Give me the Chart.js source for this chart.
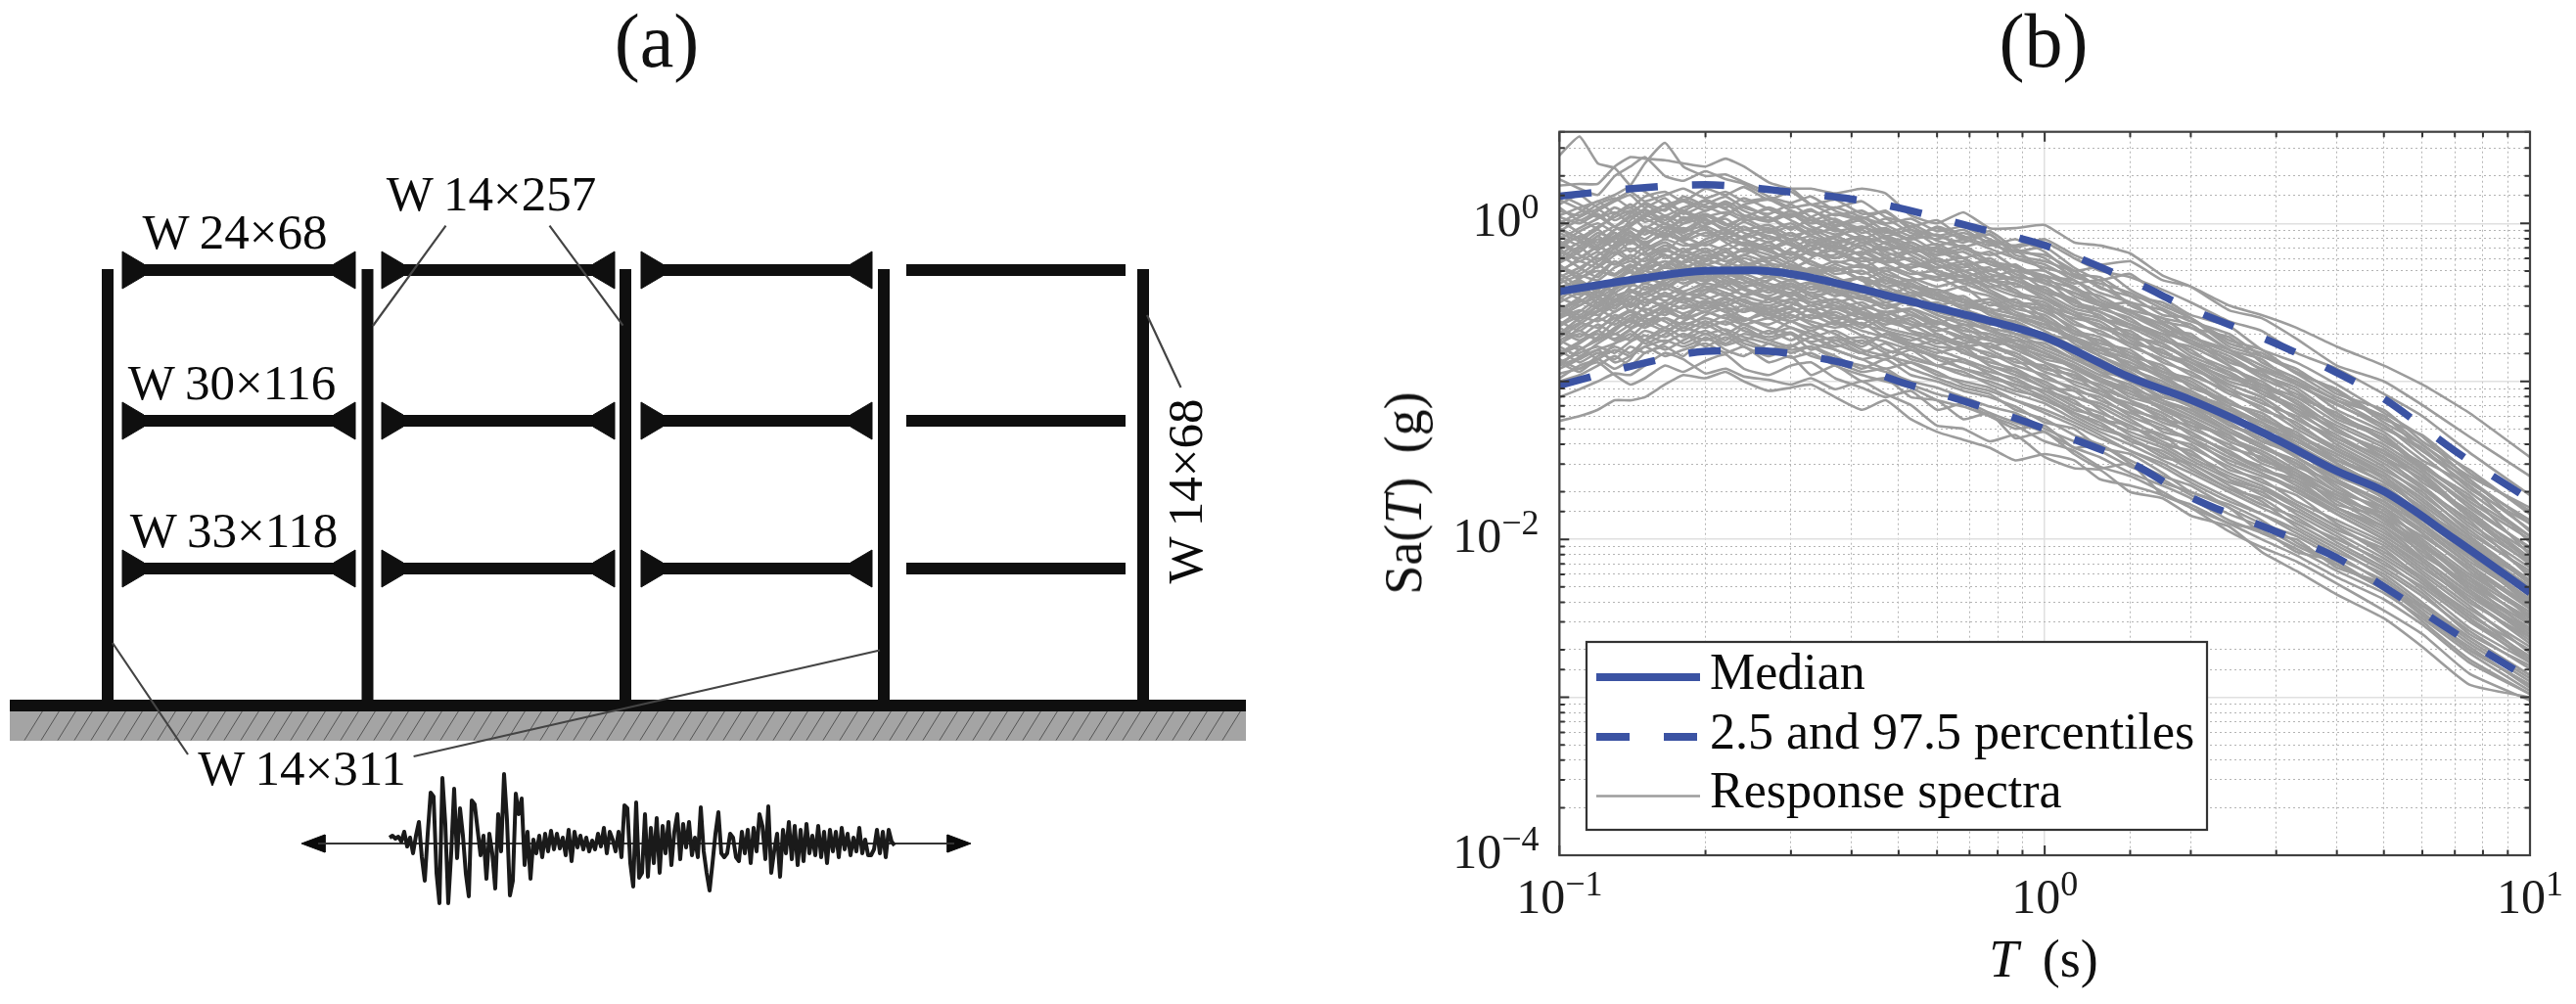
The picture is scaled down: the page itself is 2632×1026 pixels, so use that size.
<!DOCTYPE html>
<html>
<head>
<meta charset="utf-8">
<title>Frame and response spectra</title>
<script src="https://cdn.jsdelivr.net/npm/chart.js@4/dist/chart.umd.min.js"></script>
<style>
  html, body { margin: 0; padding: 0; background: #fff; }
  body { position: relative; width: 2632px; height: 1026px; overflow: hidden; font-family: "Liberation Serif", serif; color: #111; }
  canvas { position: absolute; top: 0; }
  #frame-chart { left: 0; }
  #spectra-chart { left: 1320px; }
  .lbl { position: absolute; white-space: nowrap; }
  .panel { font-size: 78px; line-height: 78px; top: 3px; transform: translateX(-50%); }
  .axis { font-size: 54px; line-height: 54px; word-spacing: 0.2em; }
</style>
</head>
<body>
<canvas id="frame-chart" width="1320" height="1026"></canvas>
<canvas id="spectra-chart" width="1312" height="1026"></canvas>
<div class="lbl panel" style="left:671px">(a)</div>
<div class="lbl panel" style="left:2088px">(b)</div>
<div class="lbl axis" style="left:2088px;top:953px;transform:translateX(-50%)"><i>T</i> (s)</div>
<div class="lbl axis" style="left:1434px;top:504px;transform:translate(-50%,-50%) rotate(-90deg)">Sa(<i>T</i>) (g)</div>
<script>
// (a) frame sketch, units are picture pixels
var columnX = [110, 375.5, 639, 903, 1168];
var floorY = [276, 430, 581];
var bayStart = [125, 390, 655, 926];
var bayEnd = [363, 628, 891, 1150];
var hatchBottomX = [25, 42, 59, 76, 93, 110, 127, 144, 161, 178, 195, 212, 229, 246, 263, 280, 297, 314, 331, 348, 365, 382, 399, 416, 433, 450, 467, 484, 501, 518, 535, 552, 569, 586, 603, 620, 637, 654, 671, 688, 705, 722, 739, 756, 773, 790, 807, 824, 841, 858, 875, 892, 909, 926, 943, 960, 977, 994, 1011, 1028, 1045, 1062, 1079, 1096, 1113, 1130, 1147, 1164, 1181, 1198, 1215, 1232, 1249];
var sectionLabels = ["W\u200914\u00d7257", "W\u200924\u00d768", "W\u200930\u00d7116", "W\u200933\u00d7118", "W\u200914\u00d7311", "W\u200914\u00d768"];
// ground motion, px above the base line, one value every 3 px
var groundMotion = [6, 8, 5, 7, 2, 12, -3, 6, -10, 8, 22, -14, -38, 10, 52, 48, -30, -61, 67, 20, -61, -10, 56, -15, 36, 8, -31, -54, 44, 40, 14, -12, 8, -36, 10, -10, -46, 30, -8, 71, 24, -53, -38, 51, 30, 46, -22, 12, -36, 4, -10, 8, -14, 10, -8, 13, -6, 10, -5, 6, -12, 14, -18, 12, -4, 8, -6, 6, -8, 3, -6, 10, -3, 16, -10, 12, 4, -8, 12, -14, 39, 36, -20, -44, 42, -35, -30, 30, -34, 16, -20, 26, -30, 18, -10, 22, -22, 12, 30, -16, 20, -4, 22, -12, 6, -14, 37, -8, -30, -48, -20, 10, 32, -10, -14, -10, 10, 6, -14, -18, 12, -10, 14, -20, 16, -8, 30, 18, -16, 38, -30, -8, 10, -34, 14, -10, 22, -16, 18, -22, 14, -18, 20, -10, 8, -12, 18, -14, 12, -20, 14, -8, 12, -14, 16, -6, 10, -12, 6, -8, 16, -10, 4, -12, -12, -6, 14, -10, 12, -14, 14, 2, -2];

// (b) spectra
var periods = [0.1, 0.11, 0.12, 0.13, 0.14, 0.15, 0.165, 0.18, 0.2, 0.22, 0.24, 0.27, 0.3, 0.33, 0.37, 0.42, 0.47, 0.53, 0.6, 0.68, 0.77, 0.87, 1, 1.15, 1.3, 1.5, 1.75, 2, 2.4, 2.8, 3.3, 4, 5, 6, 7.5, 10];
var medianPeriods = [0.1, 0.15, 0.2, 0.25, 0.3, 0.4, 0.5, 0.7, 1, 1.5, 2, 3, 4, 5, 7, 10];
var medianLog = [-0.43, -0.345, -0.30, -0.297, -0.32, -0.40, -0.475, -0.585, -0.718, -0.975, -1.117, -1.366, -1.568, -1.696, -2.00, -2.337];
var upperLog = [0.172, 0.227, 0.245, 0.225, 0.198, 0.154, 0.099, -0.018, -0.139, -0.359, -0.542, -0.762, -0.945, -1.11, -1.44, -1.751];
var lowerLog = [-1.026, -0.883, -0.81, -0.805, -0.824, -0.897, -1.0, -1.136, -1.30, -1.513, -1.733, -1.952, -2.117, -2.30, -2.593, -2.886];
var xTickValues = [0.1, 1, 10];
var xTickExp = ["\u22121", "0", "1"];
var yTickValues = [0.0001, 0.01, 1];
var yTickExp = ["\u22124", "\u22122", "0"];
var legendLabels = ["Median", "2.5 and 97.5 percentiles", "Response spectra"];
// log10 of Sa for each record
var spectraLog = [
  [0.43, 0.55, 0.38, 0.35, 0.24, 0.20, 0.12, 0.15, 0.10, 0.13, 0.05, 0.02, 0.06, -0.02, -0.07, -0.04, -0.13, -0.18, -0.15, -0.22, -0.30, -0.27, -0.36, -0.41, -0.52, -0.50, -0.63, -0.72, -0.80, -0.93, -1.02, -1.15, -1.28, -1.47, -1.70, -1.98],
  [0.24, 0.25, 0.25, 0.36, 0.42, 0.41, 0.40, 0.38, 0.36, 0.41, 0.36, 0.26, 0.22, 0.22, 0.19, 0.22, 0.19, 0.05, 0.00, 0.07, -0.03, -0.03, -0.01, -0.12, -0.14, -0.19, -0.33, -0.40, -0.55, -0.60, -0.73, -0.90, -1.00, -1.15, -1.35, -1.60],
  [0.05, 0.10, 0.14, 0.18, 0.24, 0.38, 0.51, 0.36, 0.30, 0.31, 0.26, 0.20, 0.22, 0.12, 0.10, 0.14, 0.04, 0.00, -0.08, -0.04, -0.13, -0.18, -0.15, -0.28, -0.36, -0.32, -0.47, -0.58, -0.65, -0.80, -0.88, -1.02, -1.20, -1.35, -1.62, -1.90],
  [0.28, 0.22, 0.18, 0.30, 0.36, 0.42, 0.30, 0.27, 0.33, 0.28, 0.25, 0.17, 0.13, 0.17, 0.08, 0.03, 0.08, -0.04, -0.08, -0.12, -0.07, -0.20, -0.24, -0.30, -0.28, -0.42, -0.52, -0.60, -0.74, -0.80, -0.95, -1.10, -1.22, -1.40, -1.60, -1.80],
  [-0.05, 0.02, -0.03, 0.06, 0.10, 0.04, 0.12, 0.08, 0.15, 0.10, 0.16, 0.09, 0.04, 0.08, 0.02, -0.03, 0.03, -0.06, -0.10, -0.06, -0.12, -0.14, -0.10, -0.20, -0.26, -0.24, -0.36, -0.40, -0.52, -0.58, -0.66, -0.78, -0.90, -1.02, -1.20, -1.48],
  [0.12, 0.18, 0.10, 0.15, 0.20, 0.14, 0.18, 0.22, 0.16, 0.20, 0.14, 0.16, 0.10, 0.12, 0.05, 0.08, 0.00, 0.03, -0.05, -0.02, -0.10, -0.15, -0.12, -0.22, -0.30, -0.34, -0.42, -0.50, -0.62, -0.68, -0.82, -0.92, -1.08, -1.22, -1.45, -1.72],
  [-1.25, -1.22, -1.18, -1.12, -1.12, -1.10, -1.02, -0.96, -0.98, -0.94, -1.00, -1.06, -1.04, -1.02, -1.10, -1.18, -1.12, -1.24, -1.32, -1.37, -1.42, -1.50, -1.46, -1.50, -1.62, -1.66, -1.72, -1.80, -1.95, -2.05, -2.14, -2.28, -2.45, -2.60, -2.85, -3.02],
  [-1.10, -1.05, -1.00, -0.95, -0.96, -0.90, -0.82, -0.86, -0.95, -0.92, -0.97, -0.99, -1.02, -0.98, -1.05, -1.00, -1.08, -1.15, -1.28, -1.30, -1.38, -1.34, -1.48, -1.55, -1.56, -1.70, -1.74, -1.85, -1.92, -2.08, -2.20, -2.35, -2.50, -2.68, -2.92, -3.00],
  [-0.95, -0.92, -0.88, -0.96, -1.02, -0.98, -0.90, -0.94, -0.87, -0.83, -0.92, -0.96, -0.90, -0.88, -0.98, -1.04, -1.10, -1.06, -1.18, -1.14, -1.22, -1.30, -1.28, -1.42, -1.40, -1.52, -1.64, -1.70, -1.80, -1.96, -2.00, -2.18, -2.28, -2.48, -2.70, -2.92],
  [-0.90, -0.85, -0.80, -0.88, -0.84, -0.78, -0.84, -0.80, -0.76, -0.82, -0.78, -0.88, -0.84, -0.96, -0.90, -1.00, -0.98, -1.10, -1.12, -1.24, -1.20, -1.36, -1.32, -1.46, -1.55, -1.52, -1.72, -1.78, -1.90, -1.94, -2.08, -2.14, -2.32, -2.42, -2.62, -2.86],
  [0.08, 0.05, 0.12, 0.16, 0.10, 0.17, 0.20, 0.14, 0.22, 0.18, 0.23, 0.15, 0.20, 0.12, 0.15, 0.06, 0.07, -0.02, 0.02, -0.09, -0.07, -0.18, -0.20, -0.30, -0.41, -0.46, -0.58, -0.60, -0.76, -0.82, -0.95, -1.05, -1.24, -1.34, -1.58, -1.82],
  [0.15, 0.09, 0.04, 0.10, 0.06, 0.13, 0.08, 0.17, 0.11, 0.06, 0.12, 0.15, 0.08, 0.02, 0.06, 0.01, -0.06, -0.02, -0.11, -0.15, -0.11, -0.22, -0.28, -0.33, -0.40, -0.50, -0.55, -0.66, -0.72, -0.88, -0.98, -1.12, -1.22, -1.44, -1.62, -1.95],
  [-0.02, 0.04, 0.09, 0.02, 0.07, 0.12, 0.05, 0.10, 0.14, 0.09, 0.04, 0.10, 0.05, 0.09, -0.01, 0.04, -0.05, -0.10, -0.07, -0.16, -0.20, -0.17, -0.30, -0.38, -0.36, -0.52, -0.60, -0.64, -0.80, -0.86, -1.02, -1.14, -1.30, -1.42, -1.68, -1.90],
  [-0.10, -0.03, 0.03, 0.07, 0.00, 0.06, 0.11, 0.03, 0.08, 0.12, 0.05, 0.01, 0.06, 0.00, 0.03, -0.06, -0.03, -0.12, -0.18, -0.14, -0.24, -0.27, -0.34, -0.36, -0.48, -0.55, -0.60, -0.72, -0.82, -0.92, -1.00, -1.18, -1.32, -1.50, -1.66, -2.02],
  [-0.03, -0.09, -0.02, 0.04, 0.08, 0.01, 0.05, 0.00, 0.04, 0.07, 0.02, 0.04, -0.03, 0.02, -0.05, -0.02, -0.10, -0.16, -0.13, -0.22, -0.30, -0.26, -0.38, -0.44, -0.50, -0.58, -0.68, -0.70, -0.88, -0.94, -1.10, -1.20, -1.38, -1.52, -1.76, -2.00],
  [-0.15, -0.08, -0.12, -0.04, -0.01, 0.03, -0.03, 0.02, 0.05, -0.01, 0.03, -0.04, 0.00, -0.07, -0.03, -0.12, -0.09, -0.18, -0.16, -0.26, -0.24, -0.34, -0.36, -0.50, -0.54, -0.60, -0.74, -0.78, -0.90, -1.02, -1.10, -1.26, -1.40, -1.56, -1.80, -2.05],
  [-0.08, -0.14, -0.06, -0.10, -0.03, -0.07, 0.00, -0.05, -0.01, 0.03, -0.04, -0.01, -0.08, -0.05, -0.13, -0.08, -0.17, -0.14, -0.24, -0.22, -0.32, -0.36, -0.42, -0.48, -0.60, -0.64, -0.72, -0.84, -0.94, -1.06, -1.16, -1.32, -1.44, -1.64, -1.82, -2.12],
  [-0.20, -0.12, -0.16, -0.09, -0.13, -0.05, -0.09, -0.03, -0.08, -0.04, -0.09, -0.05, -0.11, -0.08, -0.15, -0.19, -0.15, -0.24, -0.28, -0.26, -0.36, -0.38, -0.46, -0.56, -0.60, -0.70, -0.78, -0.86, -1.00, -1.06, -1.20, -1.34, -1.50, -1.66, -1.90, -2.15],
  [-0.25, -0.18, -0.10, -0.15, -0.08, -0.12, -0.07, -0.11, -0.06, -0.10, -0.14, -0.08, -0.13, -0.17, -0.12, -0.21, -0.25, -0.22, -0.32, -0.36, -0.34, -0.44, -0.52, -0.58, -0.66, -0.72, -0.84, -0.90, -1.04, -1.14, -1.22, -1.40, -1.56, -1.70, -1.96, -2.20],
  [-0.18, -0.22, -0.15, -0.19, -0.12, -0.16, -0.10, -0.14, -0.12, -0.08, -0.13, -0.17, -0.12, -0.20, -0.17, -0.24, -0.22, -0.30, -0.36, -0.33, -0.42, -0.50, -0.52, -0.64, -0.68, -0.78, -0.86, -0.96, -1.06, -1.18, -1.26, -1.44, -1.58, -1.76, -1.98, -2.26],
  [-0.30, -0.24, -0.28, -0.20, -0.16, -0.20, -0.14, -0.18, -0.13, -0.17, -0.12, -0.18, -0.22, -0.18, -0.25, -0.22, -0.32, -0.36, -0.34, -0.42, -0.46, -0.54, -0.58, -0.70, -0.74, -0.82, -0.92, -1.00, -1.14, -1.20, -1.34, -1.48, -1.64, -1.80, -2.04, -2.30],
  [-0.34, -0.28, -0.22, -0.26, -0.20, -0.24, -0.17, -0.21, -0.16, -0.21, -0.17, -0.22, -0.19, -0.26, -0.30, -0.27, -0.36, -0.40, -0.42, -0.48, -0.54, -0.58, -0.66, -0.72, -0.82, -0.88, -0.98, -1.06, -1.18, -1.28, -1.38, -1.52, -1.68, -1.86, -2.06, -2.36],
  [-0.38, -0.33, -0.36, -0.28, -0.24, -0.27, -0.20, -0.25, -0.20, -0.24, -0.20, -0.25, -0.28, -0.31, -0.28, -0.36, -0.40, -0.38, -0.48, -0.52, -0.56, -0.64, -0.70, -0.80, -0.86, -0.96, -1.02, -1.12, -1.24, -1.30, -1.44, -1.60, -1.72, -1.90, -2.12, -2.40],
  [-0.28, -0.34, -0.30, -0.33, -0.27, -0.30, -0.24, -0.28, -0.23, -0.27, -0.30, -0.26, -0.32, -0.29, -0.37, -0.34, -0.43, -0.46, -0.45, -0.54, -0.60, -0.62, -0.74, -0.82, -0.92, -0.98, -1.10, -1.14, -1.28, -1.36, -1.48, -1.62, -1.78, -1.94, -2.16, -2.44],
  [-0.44, -0.38, -0.41, -0.35, -0.31, -0.34, -0.28, -0.31, -0.26, -0.30, -0.26, -0.32, -0.36, -0.33, -0.40, -0.44, -0.42, -0.50, -0.55, -0.58, -0.66, -0.70, -0.78, -0.86, -0.94, -1.04, -1.12, -1.20, -1.32, -1.42, -1.50, -1.68, -1.82, -2.00, -2.22, -2.46],
  [-0.40, -0.45, -0.37, -0.40, -0.34, -0.38, -0.32, -0.36, -0.30, -0.34, -0.38, -0.34, -0.40, -0.37, -0.44, -0.48, -0.52, -0.50, -0.58, -0.64, -0.66, -0.76, -0.82, -0.92, -0.98, -1.06, -1.18, -1.24, -1.36, -1.44, -1.56, -1.70, -1.88, -2.04, -2.26, -2.52],
  [-0.50, -0.44, -0.47, -0.41, -0.38, -0.42, -0.36, -0.33, -0.37, -0.32, -0.36, -0.41, -0.38, -0.46, -0.43, -0.52, -0.56, -0.54, -0.63, -0.66, -0.74, -0.78, -0.88, -0.94, -1.04, -1.12, -1.20, -1.30, -1.40, -1.52, -1.60, -1.76, -1.92, -2.08, -2.32, -2.56],
  [-0.47, -0.52, -0.44, -0.48, -0.42, -0.45, -0.39, -0.43, -0.38, -0.41, -0.45, -0.40, -0.47, -0.50, -0.48, -0.56, -0.60, -0.64, -0.66, -0.74, -0.78, -0.84, -0.94, -1.00, -1.06, -1.16, -1.26, -1.32, -1.46, -1.54, -1.66, -1.80, -1.94, -2.14, -2.36, -2.60],
  [-0.56, -0.49, -0.53, -0.46, -0.43, -0.47, -0.41, -0.45, -0.42, -0.46, -0.41, -0.47, -0.50, -0.55, -0.52, -0.60, -0.58, -0.68, -0.72, -0.76, -0.84, -0.86, -0.98, -1.04, -1.12, -1.20, -1.28, -1.38, -1.50, -1.58, -1.70, -1.84, -2.00, -2.16, -2.40, -2.62],
  [-0.60, -0.55, -0.58, -0.52, -0.48, -0.44, -0.49, -0.44, -0.48, -0.44, -0.49, -0.52, -0.48, -0.56, -0.60, -0.57, -0.66, -0.70, -0.74, -0.82, -0.88, -0.92, -1.02, -1.10, -1.16, -1.26, -1.34, -1.42, -1.54, -1.64, -1.72, -1.90, -2.04, -2.22, -2.44, -2.68],
  [-0.53, -0.60, -0.55, -0.49, -0.53, -0.48, -0.52, -0.47, -0.51, -0.47, -0.52, -0.56, -0.53, -0.60, -0.56, -0.64, -0.68, -0.72, -0.78, -0.80, -0.90, -0.96, -1.04, -1.14, -1.20, -1.28, -1.38, -1.46, -1.58, -1.66, -1.78, -1.92, -2.08, -2.24, -2.48, -2.70],
  [-0.65, -0.59, -0.62, -0.56, -0.51, -0.55, -0.50, -0.54, -0.49, -0.53, -0.56, -0.52, -0.58, -0.62, -0.66, -0.63, -0.72, -0.76, -0.80, -0.86, -0.92, -1.00, -1.06, -1.16, -1.24, -1.32, -1.40, -1.50, -1.62, -1.72, -1.82, -1.96, -2.12, -2.28, -2.50, -2.74],
  [-0.70, -0.63, -0.66, -0.60, -0.55, -0.59, -0.53, -0.57, -0.52, -0.56, -0.61, -0.57, -0.62, -0.66, -0.63, -0.71, -0.75, -0.80, -0.84, -0.92, -0.96, -1.04, -1.12, -1.20, -1.26, -1.38, -1.44, -1.54, -1.68, -1.74, -1.88, -2.00, -2.14, -2.32, -2.56, -2.78],
  [-0.62, -0.68, -0.60, -0.64, -0.58, -0.62, -0.56, -0.60, -0.56, -0.60, -0.64, -0.60, -0.66, -0.70, -0.74, -0.72, -0.80, -0.84, -0.90, -0.94, -1.02, -1.08, -1.14, -1.24, -1.32, -1.40, -1.50, -1.58, -1.70, -1.80, -1.90, -2.04, -2.20, -2.36, -2.58, -2.82],
  [-0.76, -0.70, -0.73, -0.67, -0.62, -0.66, -0.60, -0.64, -0.60, -0.64, -0.60, -0.66, -0.70, -0.75, -0.72, -0.80, -0.84, -0.88, -0.96, -1.00, -1.04, -1.12, -1.20, -1.28, -1.36, -1.44, -1.54, -1.64, -1.76, -1.84, -1.94, -2.08, -2.22, -2.40, -2.62, -2.86],
  [-0.82, -0.75, -0.70, -0.73, -0.67, -0.63, -0.68, -0.63, -0.66, -0.62, -0.68, -0.72, -0.69, -0.76, -0.80, -0.86, -0.83, -0.92, -0.98, -1.04, -1.08, -1.18, -1.24, -1.34, -1.40, -1.50, -1.60, -1.66, -1.80, -1.90, -1.98, -2.12, -2.26, -2.44, -2.66, -2.90],
  [-0.78, -0.84, -0.76, -0.70, -0.74, -0.68, -0.72, -0.66, -0.70, -0.67, -0.72, -0.76, -0.80, -0.78, -0.86, -0.90, -0.94, -1.00, -1.04, -1.10, -1.16, -1.20, -1.30, -1.38, -1.44, -1.54, -1.62, -1.72, -1.84, -1.92, -2.04, -2.16, -2.30, -2.48, -2.68, -2.94],
  [-0.88, -0.82, -0.78, -0.82, -0.75, -0.71, -0.75, -0.70, -0.74, -0.70, -0.76, -0.80, -0.77, -0.84, -0.88, -0.94, -0.92, -1.02, -1.08, -1.12, -1.20, -1.26, -1.32, -1.42, -1.48, -1.58, -1.66, -1.74, -1.88, -1.96, -2.06, -2.20, -2.34, -2.50, -2.72, -2.96],
  [-0.98, -0.90, -0.86, -0.80, -0.84, -0.78, -0.74, -0.78, -0.73, -0.77, -0.74, -0.80, -0.85, -0.82, -0.90, -0.96, -1.00, -1.04, -1.12, -1.16, -1.22, -1.28, -1.38, -1.44, -1.54, -1.60, -1.70, -1.80, -1.90, -2.00, -2.10, -2.24, -2.38, -2.54, -2.78, -2.98],
  [-0.20, -0.28, -0.34, -0.24, -0.30, -0.34, -0.26, -0.20, -0.26, -0.22, -0.16, -0.20, -0.26, -0.30, -0.36, -0.40, -0.36, -0.44, -0.42, -0.50, -0.56, -0.52, -0.62, -0.76, -0.84, -0.92, -1.02, -1.06, -1.20, -1.26, -1.40, -1.54, -1.66, -1.84, -2.04, -2.30],
  [-0.58, -0.50, -0.42, -0.36, -0.40, -0.30, -0.34, -0.24, -0.18, -0.24, -0.28, -0.22, -0.18, -0.24, -0.30, -0.26, -0.34, -0.42, -0.48, -0.46, -0.56, -0.60, -0.68, -0.78, -0.80, -0.90, -1.04, -1.08, -1.22, -1.34, -1.40, -1.58, -1.74, -1.90, -2.14, -2.38],
  [-0.12, -0.20, -0.26, -0.32, -0.26, -0.34, -0.38, -0.32, -0.36, -0.30, -0.34, -0.40, -0.44, -0.38, -0.46, -0.42, -0.50, -0.46, -0.56, -0.60, -0.68, -0.72, -0.80, -0.88, -0.96, -1.02, -1.14, -1.18, -1.32, -1.40, -1.54, -1.64, -1.80, -1.96, -2.20, -2.48],
  [-0.72, -0.64, -0.56, -0.50, -0.44, -0.38, -0.42, -0.34, -0.28, -0.34, -0.40, -0.36, -0.30, -0.36, -0.42, -0.48, -0.44, -0.50, -0.58, -0.62, -0.68, -0.74, -0.76, -0.86, -0.92, -1.00, -1.10, -1.14, -1.26, -1.38, -1.44, -1.62, -1.76, -1.92, -2.16, -2.42],
  [0.02, -0.06, -0.14, -0.08, -0.18, -0.12, -0.22, -0.16, -0.24, -0.18, -0.26, -0.22, -0.28, -0.24, -0.32, -0.30, -0.38, -0.36, -0.44, -0.50, -0.48, -0.58, -0.64, -0.74, -0.80, -0.86, -0.98, -1.08, -1.16, -1.30, -1.36, -1.52, -1.68, -1.84, -2.08, -2.34],
  [-0.84, -0.76, -0.68, -0.58, -0.62, -0.52, -0.46, -0.50, -0.42, -0.36, -0.42, -0.46, -0.40, -0.46, -0.52, -0.56, -0.62, -0.58, -0.66, -0.72, -0.78, -0.82, -0.92, -0.96, -1.08, -1.14, -1.22, -1.34, -1.44, -1.56, -1.64, -1.80, -1.96, -2.12, -2.34, -2.58],
  [-0.32, -0.40, -0.46, -0.52, -0.46, -0.50, -0.44, -0.50, -0.54, -0.48, -0.52, -0.58, -0.62, -0.58, -0.64, -0.60, -0.68, -0.74, -0.70, -0.78, -0.82, -0.90, -0.96, -1.06, -1.10, -1.22, -1.30, -1.36, -1.52, -1.60, -1.68, -1.84, -2.00, -2.18, -2.38, -2.64],
  [-0.66, -0.72, -0.64, -0.70, -0.64, -0.58, -0.52, -0.46, -0.40, -0.44, -0.50, -0.54, -0.50, -0.56, -0.50, -0.58, -0.64, -0.60, -0.70, -0.76, -0.72, -0.80, -0.88, -0.98, -1.02, -1.12, -1.24, -1.28, -1.42, -1.48, -1.62, -1.74, -1.90, -2.06, -2.30, -2.54],
  [-0.24, -0.16, -0.08, -0.02, -0.08, -0.14, -0.20, -0.26, -0.32, -0.38, -0.34, -0.40, -0.36, -0.42, -0.38, -0.46, -0.42, -0.52, -0.50, -0.58, -0.64, -0.62, -0.72, -0.84, -0.90, -0.94, -1.08, -1.16, -1.26, -1.38, -1.46, -1.58, -1.72, -1.92, -2.10, -2.38],
  [-0.46, -0.36, -0.44, -0.36, -0.28, -0.22, -0.16, -0.22, -0.30, -0.36, -0.42, -0.48, -0.44, -0.52, -0.48, -0.54, -0.50, -0.58, -0.62, -0.70, -0.74, -0.78, -0.84, -0.90, -1.00, -1.08, -1.16, -1.24, -1.38, -1.46, -1.58, -1.72, -1.86, -2.02, -2.28, -2.50],
  [-0.36, -0.30, -0.20, -0.14, -0.06, -0.10, -0.02, -0.08, -0.14, -0.08, -0.14, -0.24, -0.16, -0.10, -0.16, -0.10, -0.20, -0.28, -0.24, -0.32, -0.40, -0.46, -0.50, -0.62, -0.70, -0.76, -0.88, -0.94, -1.08, -1.16, -1.30, -1.44, -1.60, -1.78, -2.00, -2.28],
  [-0.54, -0.62, -0.52, -0.44, -0.38, -0.30, -0.36, -0.28, -0.34, -0.26, -0.20, -0.14, -0.20, -0.14, -0.22, -0.18, -0.26, -0.32, -0.30, -0.38, -0.44, -0.50, -0.56, -0.66, -0.76, -0.80, -0.94, -0.98, -1.12, -1.24, -1.34, -1.46, -1.62, -1.82, -2.02, -2.32],
  [-0.16, -0.24, -0.18, -0.26, -0.22, -0.28, -0.24, -0.30, -0.34, -0.28, -0.32, -0.26, -0.34, -0.30, -0.24, -0.28, -0.22, -0.30, -0.34, -0.30, -0.38, -0.44, -0.48, -0.56, -0.66, -0.68, -0.82, -0.88, -1.02, -1.10, -1.24, -1.36, -1.52, -1.68, -1.92, -2.18],
  [-0.74, -0.68, -0.74, -0.66, -0.60, -0.54, -0.58, -0.52, -0.56, -0.50, -0.46, -0.42, -0.46, -0.40, -0.46, -0.40, -0.48, -0.44, -0.52, -0.48, -0.56, -0.60, -0.64, -0.72, -0.78, -0.84, -0.96, -1.02, -1.14, -1.22, -1.36, -1.50, -1.64, -1.80, -2.04, -2.26],
  [-0.92, -0.86, -0.80, -0.76, -0.70, -0.76, -0.70, -0.62, -0.56, -0.60, -0.54, -0.58, -0.54, -0.60, -0.54, -0.60, -0.56, -0.62, -0.68, -0.64, -0.72, -0.76, -0.82, -0.90, -0.98, -1.10, -1.16, -1.28, -1.34, -1.50, -1.56, -1.74, -1.84, -2.04, -2.24, -2.48],
  [-0.86, -0.92, -0.84, -0.78, -0.82, -0.74, -0.66, -0.72, -0.64, -0.70, -0.64, -0.70, -0.62, -0.68, -0.62, -0.68, -0.72, -0.78, -0.74, -0.82, -0.86, -0.94, -1.00, -1.10, -1.14, -1.24, -1.36, -1.40, -1.56, -1.62, -1.76, -1.88, -2.02, -2.20, -2.42, -2.72],
  [-0.42, -0.48, -0.54, -0.60, -0.66, -0.60, -0.66, -0.58, -0.64, -0.58, -0.64, -0.70, -0.66, -0.72, -0.68, -0.76, -0.70, -0.78, -0.84, -0.88, -0.94, -0.98, -1.08, -1.18, -1.22, -1.34, -1.42, -1.52, -1.64, -1.70, -1.84, -1.98, -2.16, -2.30, -2.52, -2.76],
  [-0.52, -0.58, -0.50, -0.56, -0.50, -0.56, -0.62, -0.68, -0.62, -0.68, -0.74, -0.68, -0.74, -0.68, -0.76, -0.82, -0.76, -0.86, -0.90, -0.96, -1.00, -1.06, -1.10, -1.22, -1.30, -1.36, -1.46, -1.56, -1.68, -1.78, -1.86, -2.02, -2.18, -2.34, -2.60, -2.80],
  [-0.68, -0.74, -0.68, -0.74, -0.68, -0.74, -0.68, -0.76, -0.70, -0.76, -0.70, -0.74, -0.78, -0.72, -0.78, -0.74, -0.82, -0.78, -0.86, -0.92, -0.98, -1.02, -1.10, -1.20, -1.28, -1.36, -1.48, -1.52, -1.66, -1.76, -1.92, -2.06, -2.24, -2.42, -2.64, -2.88],
  [-0.80, -0.88, -0.82, -0.86, -0.78, -0.82, -0.76, -0.70, -0.78, -0.72, -0.78, -0.84, -0.78, -0.72, -0.80, -0.86, -0.92, -0.88, -0.94, -1.02, -1.06, -1.12, -1.18, -1.26, -1.34, -1.44, -1.52, -1.62, -1.74, -1.84, -1.96, -2.10, -2.28, -2.46, -2.70, -2.92],
  [0.04, 0.00, 0.06, -0.02, 0.05, -0.03, 0.04, -0.04, 0.03, -0.05, 0.01, -0.06, -0.02, -0.08, -0.12, -0.08, -0.16, -0.12, -0.20, -0.18, -0.26, -0.30, -0.34, -0.46, -0.52, -0.56, -0.68, -0.76, -0.86, -0.98, -1.08, -1.22, -1.36, -1.54, -1.74, -1.98],
  [-0.06, -0.11, -0.04, -0.12, -0.06, -0.14, -0.04, -0.10, -0.02, -0.07, -0.02, -0.10, -0.06, -0.12, -0.08, -0.16, -0.20, -0.18, -0.26, -0.30, -0.28, -0.40, -0.40, -0.52, -0.56, -0.66, -0.70, -0.82, -0.92, -1.00, -1.14, -1.28, -1.42, -1.58, -1.84, -2.08],
  [0.10, 0.02, 0.08, 0.14, 0.18, 0.10, 0.16, 0.06, 0.12, 0.17, 0.10, 0.06, 0.12, 0.04, -0.02, 0.02, -0.08, -0.04, -0.14, -0.10, -0.16, -0.22, -0.26, -0.36, -0.44, -0.50, -0.62, -0.66, -0.80, -0.90, -1.00, -1.12, -1.28, -1.44, -1.66, -1.94],
  [0.18, 0.12, 0.05, -0.02, 0.04, 0.09, 0.02, 0.08, 0.02, -0.03, 0.04, 0.09, 0.02, -0.04, 0.01, -0.08, -0.12, -0.09, -0.18, -0.22, -0.18, -0.28, -0.33, -0.40, -0.50, -0.56, -0.66, -0.76, -0.86, -0.96, -1.06, -1.24, -1.36, -1.56, -1.78, -2.06],
  [-0.14, -0.05, 0.00, -0.06, -0.11, -0.04, -0.08, 0.00, 0.06, 0.00, -0.06, -0.12, -0.06, -0.14, -0.09, -0.02, -0.08, -0.16, -0.20, -0.16, -0.24, -0.30, -0.30, -0.42, -0.46, -0.56, -0.64, -0.74, -0.84, -0.96, -1.04, -1.22, -1.34, -1.54, -1.72, -2.10],
  [-0.22, -0.15, -0.24, -0.16, -0.22, -0.14, -0.06, -0.12, -0.18, -0.14, -0.08, -0.03, -0.10, -0.04, -0.10, -0.14, -0.08, -0.14, -0.22, -0.28, -0.22, -0.32, -0.38, -0.44, -0.52, -0.62, -0.70, -0.74, -0.90, -1.04, -1.12, -1.30, -1.46, -1.60, -1.84, -2.14],
  [-0.27, -0.32, -0.24, -0.13, -0.05, -0.14, -0.18, -0.08, -0.04, -0.12, -0.18, -0.12, -0.20, -0.12, -0.18, -0.26, -0.30, -0.26, -0.30, -0.38, -0.36, -0.42, -0.54, -0.60, -0.64, -0.76, -0.80, -0.92, -1.02, -1.10, -1.24, -1.38, -1.54, -1.72, -1.94, -2.22],
  [-0.35, -0.42, -0.32, -0.24, -0.30, -0.22, -0.28, -0.18, -0.22, -0.16, -0.24, -0.30, -0.24, -0.32, -0.26, -0.32, -0.28, -0.34, -0.40, -0.36, -0.44, -0.52, -0.54, -0.68, -0.72, -0.84, -0.90, -1.04, -1.12, -1.24, -1.32, -1.50, -1.60, -1.82, -2.00, -2.34],
  [-0.48, -0.40, -0.50, -0.42, -0.36, -0.28, -0.32, -0.38, -0.32, -0.28, -0.22, -0.28, -0.34, -0.28, -0.34, -0.40, -0.34, -0.40, -0.46, -0.52, -0.48, -0.56, -0.62, -0.68, -0.78, -0.92, -1.00, -1.10, -1.20, -1.32, -1.46, -1.56, -1.74, -1.88, -2.10, -2.42],
  [-0.55, -0.47, -0.38, -0.44, -0.50, -0.40, -0.46, -0.40, -0.34, -0.40, -0.32, -0.38, -0.42, -0.48, -0.42, -0.46, -0.54, -0.48, -0.54, -0.60, -0.62, -0.70, -0.74, -0.82, -0.88, -1.00, -1.06, -1.16, -1.30, -1.40, -1.52, -1.66, -1.84, -1.98, -2.18, -2.50],
  [-0.64, -0.56, -0.48, -0.54, -0.46, -0.52, -0.44, -0.50, -0.44, -0.38, -0.46, -0.50, -0.44, -0.50, -0.54, -0.50, -0.58, -0.54, -0.60, -0.68, -0.70, -0.76, -0.86, -0.90, -1.00, -1.06, -1.14, -1.22, -1.34, -1.50, -1.58, -1.78, -1.86, -2.10, -2.28, -2.58],
  [-0.74, -0.80, -0.72, -0.62, -0.56, -0.62, -0.56, -0.48, -0.54, -0.50, -0.56, -0.48, -0.54, -0.60, -0.58, -0.66, -0.60, -0.68, -0.76, -0.72, -0.80, -0.88, -0.90, -1.02, -1.08, -1.18, -1.32, -1.36, -1.48, -1.58, -1.68, -1.82, -1.98, -2.14, -2.38, -2.66],
  [-0.83, -0.78, -0.86, -0.76, -0.72, -0.64, -0.60, -0.66, -0.58, -0.54, -0.60, -0.64, -0.58, -0.64, -0.70, -0.78, -0.70, -0.76, -0.82, -0.78, -0.90, -0.94, -1.04, -1.06, -1.18, -1.30, -1.34, -1.48, -1.60, -1.68, -1.80, -1.94, -2.06, -2.26, -2.46, -2.76],
  [-0.16, -0.08, -0.16, -0.10, 0.02, 0.08, 0.00, -0.06, 0.02, -0.04, -0.10, -0.16, -0.10, -0.18, -0.22, -0.14, -0.22, -0.28, -0.22, -0.30, -0.36, -0.34, -0.44, -0.54, -0.58, -0.72, -0.76, -0.88, -0.98, -1.04, -1.18, -1.30, -1.48, -1.62, -1.86, -2.16],
  [-0.31, -0.22, -0.14, -0.06, -0.12, -0.02, -0.06, 0.04, -0.03, -0.10, -0.04, -0.08, -0.14, -0.20, -0.20, -0.12, -0.18, -0.24, -0.30, -0.34, -0.30, -0.36, -0.44, -0.48, -0.60, -0.66, -0.76, -0.86, -0.96, -1.08, -1.18, -1.36, -1.48, -1.68, -1.88, -2.24],
  [-0.41, -0.35, -0.27, -0.18, -0.24, -0.18, -0.12, -0.18, -0.10, -0.06, -0.10, -0.16, -0.24, -0.16, -0.08, -0.16, -0.24, -0.18, -0.26, -0.34, -0.40, -0.38, -0.48, -0.58, -0.62, -0.74, -0.82, -0.90, -1.06, -1.12, -1.28, -1.42, -1.58, -1.74, -1.98, -2.28],
  [-0.59, -0.52, -0.46, -0.38, -0.30, -0.36, -0.26, -0.32, -0.24, -0.18, -0.26, -0.34, -0.26, -0.34, -0.28, -0.36, -0.30, -0.38, -0.44, -0.40, -0.52, -0.48, -0.60, -0.70, -0.74, -0.86, -0.94, -1.02, -1.16, -1.26, -1.36, -1.52, -1.70, -1.84, -2.06, -2.36],
  [-0.70, -0.60, -0.52, -0.42, -0.34, -0.26, -0.20, -0.28, -0.36, -0.30, -0.36, -0.44, -0.38, -0.44, -0.40, -0.34, -0.40, -0.46, -0.42, -0.48, -0.58, -0.64, -0.70, -0.74, -0.84, -0.94, -1.06, -1.10, -1.28, -1.34, -1.48, -1.64, -1.76, -1.96, -2.18, -2.44],
  [-0.77, -0.66, -0.60, -0.48, -0.52, -0.44, -0.38, -0.44, -0.46, -0.52, -0.48, -0.56, -0.52, -0.44, -0.50, -0.46, -0.52, -0.56, -0.64, -0.56, -0.62, -0.70, -0.72, -0.84, -0.94, -0.98, -1.12, -1.18, -1.32, -1.42, -1.52, -1.70, -1.80, -2.02, -2.24, -2.54],
  [-0.90, -0.80, -0.74, -0.68, -0.60, -0.66, -0.54, -0.60, -0.50, -0.56, -0.52, -0.60, -0.56, -0.52, -0.58, -0.64, -0.56, -0.64, -0.72, -0.78, -0.76, -0.84, -0.92, -0.96, -1.04, -1.18, -1.24, -1.32, -1.46, -1.56, -1.62, -1.80, -1.92, -2.12, -2.34, -2.62],
  [-0.45, -0.37, -0.52, -0.44, -0.56, -0.48, -0.54, -0.60, -0.50, -0.56, -0.62, -0.54, -0.60, -0.54, -0.62, -0.54, -0.62, -0.66, -0.62, -0.70, -0.78, -0.74, -0.82, -0.92, -1.00, -1.04, -1.18, -1.26, -1.36, -1.46, -1.60, -1.72, -1.88, -2.06, -2.32, -2.60],
  [-0.26, -0.36, -0.42, -0.50, -0.40, -0.32, -0.40, -0.34, -0.40, -0.46, -0.40, -0.36, -0.28, -0.34, -0.28, -0.36, -0.46, -0.40, -0.46, -0.54, -0.50, -0.58, -0.60, -0.74, -0.78, -0.90, -0.96, -1.08, -1.18, -1.26, -1.42, -1.54, -1.68, -1.86, -2.08, -2.40],
  [-0.11, -0.18, -0.08, -0.16, -0.10, -0.18, -0.28, -0.20, -0.28, -0.34, -0.28, -0.34, -0.30, -0.22, -0.14, -0.20, -0.12, -0.20, -0.28, -0.24, -0.34, -0.30, -0.42, -0.50, -0.56, -0.64, -0.74, -0.80, -0.96, -1.02, -1.14, -1.32, -1.44, -1.60, -1.86, -2.12],
  [0.00, 0.07, 0.14, 0.06, 0.12, 0.06, 0.00, 0.07, 0.00, 0.05, 0.11, 0.04, -0.04, 0.04, 0.10, 0.04, -0.01, -0.08, -0.03, -0.10, -0.05, -0.16, -0.22, -0.34, -0.38, -0.44, -0.54, -0.62, -0.70, -0.84, -0.92, -1.08, -1.18, -1.38, -1.56, -1.84],
  [-0.04, -0.10, -0.17, -0.08, -0.02, 0.05, 0.09, 0.14, 0.08, 0.14, 0.08, 0.02, 0.08, 0.02, -0.04, -0.10, -0.04, -0.10, -0.02, -0.08, -0.14, -0.10, -0.18, -0.32, -0.34, -0.46, -0.50, -0.60, -0.78, -0.84, -0.94, -1.06, -1.26, -1.40, -1.64, -1.88],
  [-0.88, -0.94, -0.86, -0.92, -0.86, -0.74, -0.80, -0.74, -0.68, -0.74, -0.66, -0.74, -0.70, -0.80, -0.74, -0.82, -0.86, -0.80, -0.90, -0.86, -0.96, -1.02, -1.06, -1.12, -1.24, -1.28, -1.40, -1.44, -1.62, -1.68, -1.78, -1.92, -2.10, -2.26, -2.50, -2.78],
  [-1.00, -0.96, -0.90, -0.84, -0.90, -0.82, -0.78, -0.84, -0.72, -0.80, -0.84, -0.76, -0.82, -0.78, -0.84, -0.92, -0.86, -0.96, -1.00, -1.06, -1.10, -1.16, -1.26, -1.30, -1.42, -1.46, -1.58, -1.70, -1.78, -1.88, -2.02, -2.16, -2.32, -2.52, -2.76, -2.98]
];

// build {x, y} from two lists, values stored as log10
function logPoints(xs, logs) {
  var pts = [];
  for (var i = 0; i < xs.length; i++) {
    pts.push({ x: xs[i], y: Math.pow(10, logs[i]) });
  }
  return pts;
}

function isDecade(v) {
  var l = Math.log10(v);
  return Math.abs(l - Math.round(l)) < 1e-6;
}

// ---------- (a) ----------
var BLACK = "#0f0f0f";

function lineSet(points, color, width) {
  return { data: points, borderColor: color, borderWidth: width, pointRadius: 0, showLine: true, tension: 0, borderCapStyle: "butt", spanGaps: false };
}
function shapeSet(points, color) {
  return { data: points, borderColor: color, backgroundColor: color, borderWidth: 1, pointRadius: 0, showLine: true, tension: 0, fill: "shape" };
}
var BREAK = { x: NaN, y: NaN };

var frameSets = [];

// leader lines on top
frameSets.push(lineSet([
  { x: 455.5, y: 230.7 }, { x: 381, y: 333 }, BREAK,
  { x: 561.5, y: 230.7 }, { x: 636.5, y: 332.7 }, BREAK,
  { x: 1172, y: 322 }, { x: 1206.5, y: 396 }, BREAK,
  { x: 115, y: 657 }, { x: 192, y: 771 }, BREAK,
  { x: 422.6, y: 773 }, { x: 899, y: 664.5 }
], "#444", 2.2));

// ground motion and its arrow
var motionPts = [];
for (var i = 0; i < groundMotion.length; i++) {
  motionPts.push({ x: 398 + i * 3, y: 862 - groundMotion[i] });
}
var motionSet = lineSet(motionPts, "#1a1a1a", 4);
motionSet.borderJoinStyle = "round";
frameSets.push(motionSet);
frameSets.push(lineSet([{ x: 325, y: 862 }, { x: 975, y: 862 }], "#333", 2.2));
frameSets.push(shapeSet([{ x: 308, y: 862 }, { x: 332, y: 853 }, { x: 332, y: 871 }, { x: 308, y: 862 }], "#0a0a0a"));
frameSets.push(shapeSet([{ x: 992, y: 862 }, { x: 968, y: 853 }, { x: 968, y: 871 }, { x: 992, y: 862 }], "#0a0a0a"));

// columns
var colPts = [];
columnX.forEach(function (x) {
  colPts.push({ x: x, y: 275 }, { x: x, y: 716 }, BREAK);
});
frameSets.push(lineSet(colPts, BLACK, 12));

// beams and their flanges, the last bay has none
var beamPts = [];
floorY.forEach(function (y) {
  bayStart.forEach(function (s, b) {
    beamPts.push({ x: s, y: y }, { x: bayEnd[b], y: y }, BREAK);
    if (b < 3) {
      frameSets.push(shapeSet([{ x: s, y: y - 19 }, { x: s + 22, y: y - 6 }, { x: s + 22, y: y + 6 }, { x: s, y: y + 19 }, { x: s, y: y - 19 }], BLACK));
      var e = bayEnd[b];
      frameSets.push(shapeSet([{ x: e, y: y - 19 }, { x: e - 22, y: y - 6 }, { x: e - 22, y: y + 6 }, { x: e, y: y + 19 }, { x: e, y: y - 19 }], BLACK));
    }
  });
});
frameSets.push(lineSet(beamPts, BLACK, 12));

// ground
frameSets.push(lineSet([{ x: 10, y: 721 }, { x: 1273, y: 721 }], BLACK, 12));
var hatchPts = [];
hatchBottomX.forEach(function (x) {
  hatchPts.push({ x: x, y: 756.5 }, { x: x + 18.3, y: 727 }, BREAK);
});
frameSets.push(lineSet(hatchPts, "#555", 1));
frameSets.push(lineSet([{ x: 10, y: 741.5 }, { x: 1273, y: 741.5 }], "#a4a4a4", 31));

// section names, drawn with the scales of the sketch
var frameLabels = {
  id: "frameLabels",
  afterDatasetsDraw: function (chart) {
    var ctx = chart.ctx, sx = chart.scales.x, sy = chart.scales.y;
    ctx.save();
    ctx.fillStyle = "#0a0a0a";
    ctx.font = '51px "Liberation Serif"';
    ctx.textAlign = "center";
    ctx.textBaseline = "alphabetic";
    var at = [[502, 215], [240, 254], [237, 408], [239, 559], [308.5, 802]];
    at.forEach(function (p, i) {
      ctx.fillText(sectionLabels[i], sx.getPixelForValue(p[0]), sy.getPixelForValue(p[1]));
    });
    ctx.translate(sx.getPixelForValue(1228), sy.getPixelForValue(502));
    ctx.rotate(-Math.PI / 2);
    ctx.fillText(sectionLabels[5], 0, 0);
    ctx.restore();
  }
};

new Chart(document.getElementById("frame-chart"), {
  type: "scatter",
  data: { datasets: frameSets },
  plugins: [frameLabels],
  options: {
    responsive: false,
    animation: false,
    layout: { padding: 0 },
    plugins: { legend: { display: false }, tooltip: { enabled: false } },
    scales: {
      x: { type: "linear", min: 0, max: 1320, display: false },
      y: { type: "linear", min: 0, max: 1026, reverse: true, display: false }
    }
  }
});

// ---------- (b) ----------
var BLUE = "#3b53a3";
var GRAY = "#9c9c9c";
var OX = 1320; // left edge of this canvas on the page

var spectraSets = [
  { label: legendLabels[0], data: logPoints(medianPeriods, medianLog), borderColor: BLUE, borderWidth: 8, pointRadius: 0, cubicInterpolationMode: "monotone", borderCapStyle: "butt" },
  { label: legendLabels[1], data: logPoints(medianPeriods, upperLog), borderColor: BLUE, borderWidth: 7.5, borderDash: [33, 35], pointRadius: 0, cubicInterpolationMode: "monotone", borderCapStyle: "butt" },
  { label: legendLabels[1], data: logPoints(medianPeriods, lowerLog), borderColor: BLUE, borderWidth: 7.5, borderDash: [33, 35], pointRadius: 0, cubicInterpolationMode: "monotone", borderCapStyle: "butt" }
];
spectraLog.forEach(function (row) {
  spectraSets.push({ label: legendLabels[2], data: logPoints(periods, row), borderColor: GRAY, borderWidth: 2.6, pointRadius: 0, tension: 0.15 });
});

function tickLabel(ctx, base, exp, x, y) {
  // "10" with its exponent, x is the right end of the whole label
  ctx.font = '50px "Liberation Serif"';
  var w1 = ctx.measureText(base).width;
  ctx.font = '36px "Liberation Serif"';
  var w2 = ctx.measureText(exp).width;
  ctx.textAlign = "left";
  ctx.font = '50px "Liberation Serif"';
  ctx.fillText(base, x - w1 - w2, y);
  ctx.font = '36px "Liberation Serif"';
  ctx.fillText(exp, x - w2, y - 18);
  return w1 + w2;
}

var axesBox = {
  id: "axesBox",
  afterDatasetsDraw: function (chart) {
    var ctx = chart.ctx, a = chart.chartArea, sx = chart.scales.x, sy = chart.scales.y;
    ctx.save();
    // inward ticks on all four sides
    ctx.strokeStyle = "#333";
    ctx.lineWidth = 2;
    ctx.beginPath();
    sx.ticks.forEach(function (t) {
      var p = sx.getPixelForValue(t.value), len = isDecade(t.value) ? 10 : 5.5;
      ctx.moveTo(p, a.bottom); ctx.lineTo(p, a.bottom - len);
      ctx.moveTo(p, a.top); ctx.lineTo(p, a.top + len);
    });
    sy.ticks.forEach(function (t) {
      var p = sy.getPixelForValue(t.value), len = isDecade(t.value) ? 10 : 5.5;
      ctx.moveTo(a.left, p); ctx.lineTo(a.left + len, p);
      ctx.moveTo(a.right, p); ctx.lineTo(a.right - len, p);
    });
    ctx.stroke();
    ctx.strokeStyle = "#404040";
    ctx.lineWidth = 2.2;
    ctx.strokeRect(a.left, a.top, a.right - a.left, a.bottom - a.top);

    // tick labels
    ctx.fillStyle = "#1a1a1a";
    ctx.textBaseline = "alphabetic";
    xTickValues.forEach(function (v, i) {
      ctx.font = '50px "Liberation Serif"';
      var w = ctx.measureText("10").width;
      ctx.font = '36px "Liberation Serif"';
      w += ctx.measureText(xTickExp[i]).width;
      tickLabel(ctx, "10", xTickExp[i], sx.getPixelForValue(v) + w / 2, 933);
    });
    yTickValues.forEach(function (v, i) {
      tickLabel(ctx, "10", yTickExp[i], 1572.5 - OX, sy.getPixelForValue(v) + 13);
    });

    // legend
    var lx = 1621 - OX, ly = 656, lw = 634, lh = 192;
    ctx.fillStyle = "#fff";
    ctx.fillRect(lx, ly, lw, lh);
    ctx.strokeStyle = "#333";
    ctx.lineWidth = 2.2;
    ctx.strokeRect(lx, ly, lw, lh);
    ctx.lineCap = "butt";
    ctx.strokeStyle = BLUE;
    ctx.lineWidth = 8;
    ctx.beginPath(); ctx.moveTo(1631 - OX, 692); ctx.lineTo(1737 - OX, 692); ctx.stroke();
    ctx.setLineDash([34, 35]);
    ctx.beginPath(); ctx.moveTo(1631 - OX, 753); ctx.lineTo(1737 - OX, 753); ctx.stroke();
    ctx.setLineDash([]);
    ctx.strokeStyle = GRAY;
    ctx.lineWidth = 2.5;
    ctx.beginPath(); ctx.moveTo(1631 - OX, 813.5); ctx.lineTo(1737 - OX, 813.5); ctx.stroke();
    ctx.fillStyle = "#0a0a0a";
    ctx.textAlign = "left";
    ctx.font = '52px "Liberation Serif"';
    ctx.fillText(legendLabels[0], 1747 - OX, 704);
    ctx.fillText(legendLabels[1], 1747 - OX, 765);
    ctx.fillText(legendLabels[2], 1747 - OX, 825);
    ctx.restore();
  }
};

function gridColor(c) { return isDecade(c.tick.value) ? "#e0e0e0" : "#b4b4b4"; }
function gridWidth(c) { return isDecade(c.tick.value) ? 1.5 : 1; }
function gridDash(c) { return c.tick && isDecade(c.tick.value) ? [] : [2, 3]; }

new Chart(document.getElementById("spectra-chart"), {
  type: "line",
  data: { datasets: spectraSets },
  plugins: [axesBox],
  options: {
    responsive: false,
    animation: false,
    layout: { padding: { top: 134.7, right: 47, bottom: 0, left: 0 } },
    plugins: { legend: { display: false }, tooltip: { enabled: false } },
    scales: {
      x: {
        type: "logarithmic",
        min: 0.1,
        max: 10,
        ticks: { display: false, autoSkip: false },
        grid: { color: gridColor, lineWidth: gridWidth, drawTicks: false },
        border: { display: false, dash: gridDash },
        afterFit: function (s) { s.height = 152; }
      },
      y: {
        type: "logarithmic",
        min: 0.0001,
        max: 3.8,
        ticks: { display: false, autoSkip: false },
        grid: { color: gridColor, lineWidth: gridWidth, drawTicks: false },
        border: { display: false, dash: gridDash },
        afterFit: function (s) { s.width = 273.3; }
      }
    }
  }
});
</script>
</body>
</html>
